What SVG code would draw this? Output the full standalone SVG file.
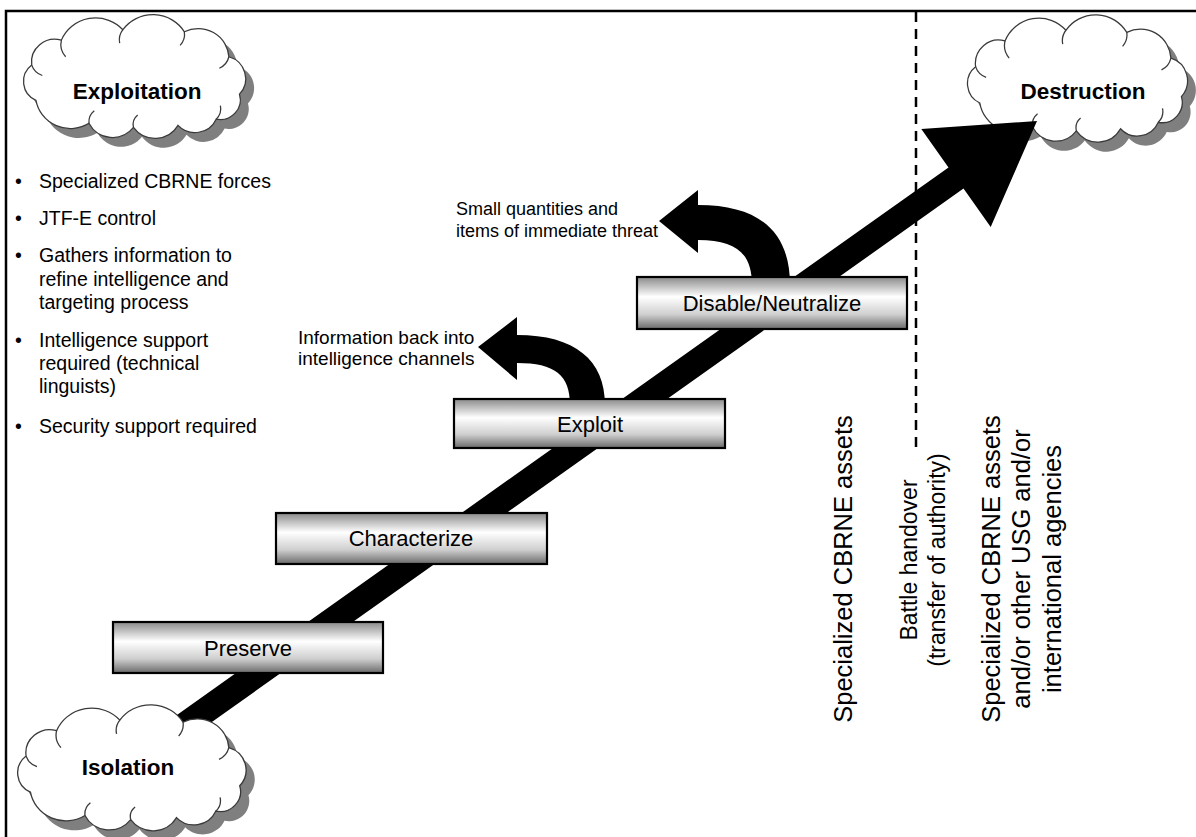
<svg xmlns="http://www.w3.org/2000/svg" xmlns:xlink="http://www.w3.org/1999/xlink" width="1196" height="837" viewBox="0 0 1196 837">
<style>
  .frame{stroke:#000;stroke-width:2.5;fill:none}
  .dash{stroke:#000;stroke-width:2.5;stroke-dasharray:10,7;fill:none}
  .cshadow{fill:#7f7f7f;stroke:none}
  .cbody{fill:#fff;stroke:#3a3a3a;stroke-width:1.2;vector-effect:non-scaling-stroke}
  .cdetail{fill:none;stroke:#3a3a3a;stroke-width:1.2;vector-effect:non-scaling-stroke}
  .ctext{font-family:"Liberation Sans",Arial,sans-serif;font-weight:bold;font-size:22.5px;fill:#000;text-anchor:middle}
  .box{fill:url(#boxgrad);stroke:#000;stroke-width:2.2}
  .btext{font-family:"Liberation Sans",Arial,sans-serif;font-size:22px;fill:#000;text-anchor:middle}
  .lbl{font-family:"Liberation Sans",Arial,sans-serif;font-size:19px;fill:#000}
  .blt{font-family:"Liberation Sans",Arial,sans-serif;font-size:19.5px;fill:#000}
  .vtext{font-family:"Liberation Sans",Arial,sans-serif;font-size:25.5px;fill:#000;text-anchor:middle}
  .vsmall{font-family:"Liberation Sans",Arial,sans-serif;font-size:23px;fill:#000;text-anchor:middle}
  .arrow{fill:#000;stroke:none}
</style>
<defs>
  <linearGradient id="boxgrad" x1="0" y1="0" x2="0" y2="1">
    <stop offset="0" stop-color="#8a8a8a"/>
    <stop offset="0.38" stop-color="#ffffff"/>
    <stop offset="0.72" stop-color="#cfcfcf"/>
    <stop offset="1" stop-color="#6a6a6a"/>
  </linearGradient>
  <path id="cloud" d="M16,86 A20,20 0 0 1 12,52 A22,22 0 0 1 40,28 A35,35 0 0 1 98,18 A35,35 0 0 1 156,20 A29,29 0 0 1 198,44 A22,22 0 0 1 208,80 A19,19 0 0 1 186,104 A22,22 0 0 1 150,110 A25,25 0 0 1 108,112 A25,25 0 0 1 66,108 A33,33 0 0 1 16,86 Z"/>
  <path id="cloudDetail" d="M12,52 A16,16 0 0 0 22,62 M40,28 A18,18 0 0 0 44,44 M98,18 A16,16 0 0 0 95,31 M156,20 A16,16 0 0 1 152,33 M198,44 A16,16 0 0 1 189,55 M186,104 A14,14 0 0 0 190,91 M108,112 A12,12 0 0 1 112,100 M66,108 A14,14 0 0 1 71,96"/>
</defs>

<rect width="1196" height="837" fill="#fff"/>

<g id="frame">
  <path class="frame" d="M6,837 V11 H1196"/>
  <line class="dash" x1="916" y1="12" x2="916" y2="454"/>
</g>

<g id="cloud-destruction">
  <g transform="translate(963,11) scale(1.05,1.07)">
    <use xlink:href="#cloud" class="cshadow" transform="translate(8,9)"/>
    <use xlink:href="#cloud" class="cbody"/>
    <use xlink:href="#cloudDetail" class="cdetail"/>
  </g>
  <text class="ctext" x="1083" y="99">Destruction</text>
</g>

<g id="connectors">
  <polygon class="arrow" points="142.5,739.4 948.5,167.4 921.3,129 1037,121 990.7,227 963.5,188.6 157.5,760.6"/>
  <path class="arrow" d="M478,347 L517,317 L517,335 C575,335 605,360 605,405 L570,405 C570,375 555,363 517,363 L517,380 Z"/>
  <path class="arrow" d="M659,221 L698,190 L698,205 C760,205 790,232 790,285 L752,285 C752,254 737,240 698,240 L698,253 Z"/>
</g>

<g id="node-preserve">
  <rect class="box" x="113" y="622" width="270" height="51"/>
  <text class="btext" x="248" y="656">Preserve</text>
</g>
<g id="node-characterize">
  <rect class="box" x="276" y="513" width="271" height="51"/>
  <text class="btext" x="411" y="546">Characterize</text>
</g>
<g id="node-exploit">
  <rect class="box" x="454" y="399" width="271" height="49"/>
  <text class="btext" x="590" y="432">Exploit</text>
</g>
<g id="node-disable">
  <rect class="box" x="637" y="277" width="270" height="52"/>
  <text class="btext" x="772" y="311">Disable/Neutralize</text>
</g>

<g id="cloud-isolation">
  <g transform="translate(13,701) scale(1.09,1.06)">
    <use xlink:href="#cloud" class="cshadow" transform="translate(8,9)"/>
    <use xlink:href="#cloud" class="cbody"/>
    <use xlink:href="#cloudDetail" class="cdetail"/>
  </g>
  <text class="ctext" x="128" y="775">Isolation</text>
</g>

<g id="cloud-exploitation">
  <g transform="translate(19,11) scale(1.06,1.04)">
    <use xlink:href="#cloud" class="cshadow" transform="translate(8,9)"/>
    <use xlink:href="#cloud" class="cbody"/>
    <use xlink:href="#cloudDetail" class="cdetail"/>
  </g>
  <text class="ctext" x="137" y="99">Exploitation</text>
</g>

<g id="bullets" class="blt">
  <text x="15" y="188">•</text><text x="39" y="188">Specialized CBRNE forces</text>
  <text x="15" y="225">•</text><text x="39" y="225">JTF-E control</text>
  <text x="15" y="262">•</text><text x="39" y="262">Gathers information to</text>
  <text x="39" y="286">refine intelligence and</text>
  <text x="39" y="309">targeting process</text>
  <text x="15" y="347">•</text><text x="39" y="347">Intelligence support</text>
  <text x="39" y="370">required (technical</text>
  <text x="39" y="393">linguists)</text>
  <text x="15" y="433">•</text><text x="39" y="433">Security support required</text>
</g>

<g id="label-info" class="lbl">
  <text x="298" y="344">Information back into</text>
  <text x="298" y="365">intelligence channels</text>
</g>
<g id="label-small" class="lbl" style="font-size:18px">
  <text x="456" y="215">Small quantities and</text>
  <text x="456" y="237">items of immediate threat</text>
</g>

<g id="label-vertical">
  <text class="vtext" transform="translate(852,569) rotate(-90)">Specialized CBRNE assets</text>
  <text class="vsmall" transform="translate(917,560) rotate(-90)">Battle handover</text>
  <text class="vsmall" transform="translate(945,560) rotate(-90)">(transfer of authority)</text>
  <text class="vtext" transform="translate(1000,569) rotate(-90)">Specialized CBRNE assets</text>
  <text class="vtext" transform="translate(1030,569) rotate(-90)">and/or other USG and/or</text>
  <text class="vtext" transform="translate(1061,569) rotate(-90)">international agencies</text>
</g>
</svg>
